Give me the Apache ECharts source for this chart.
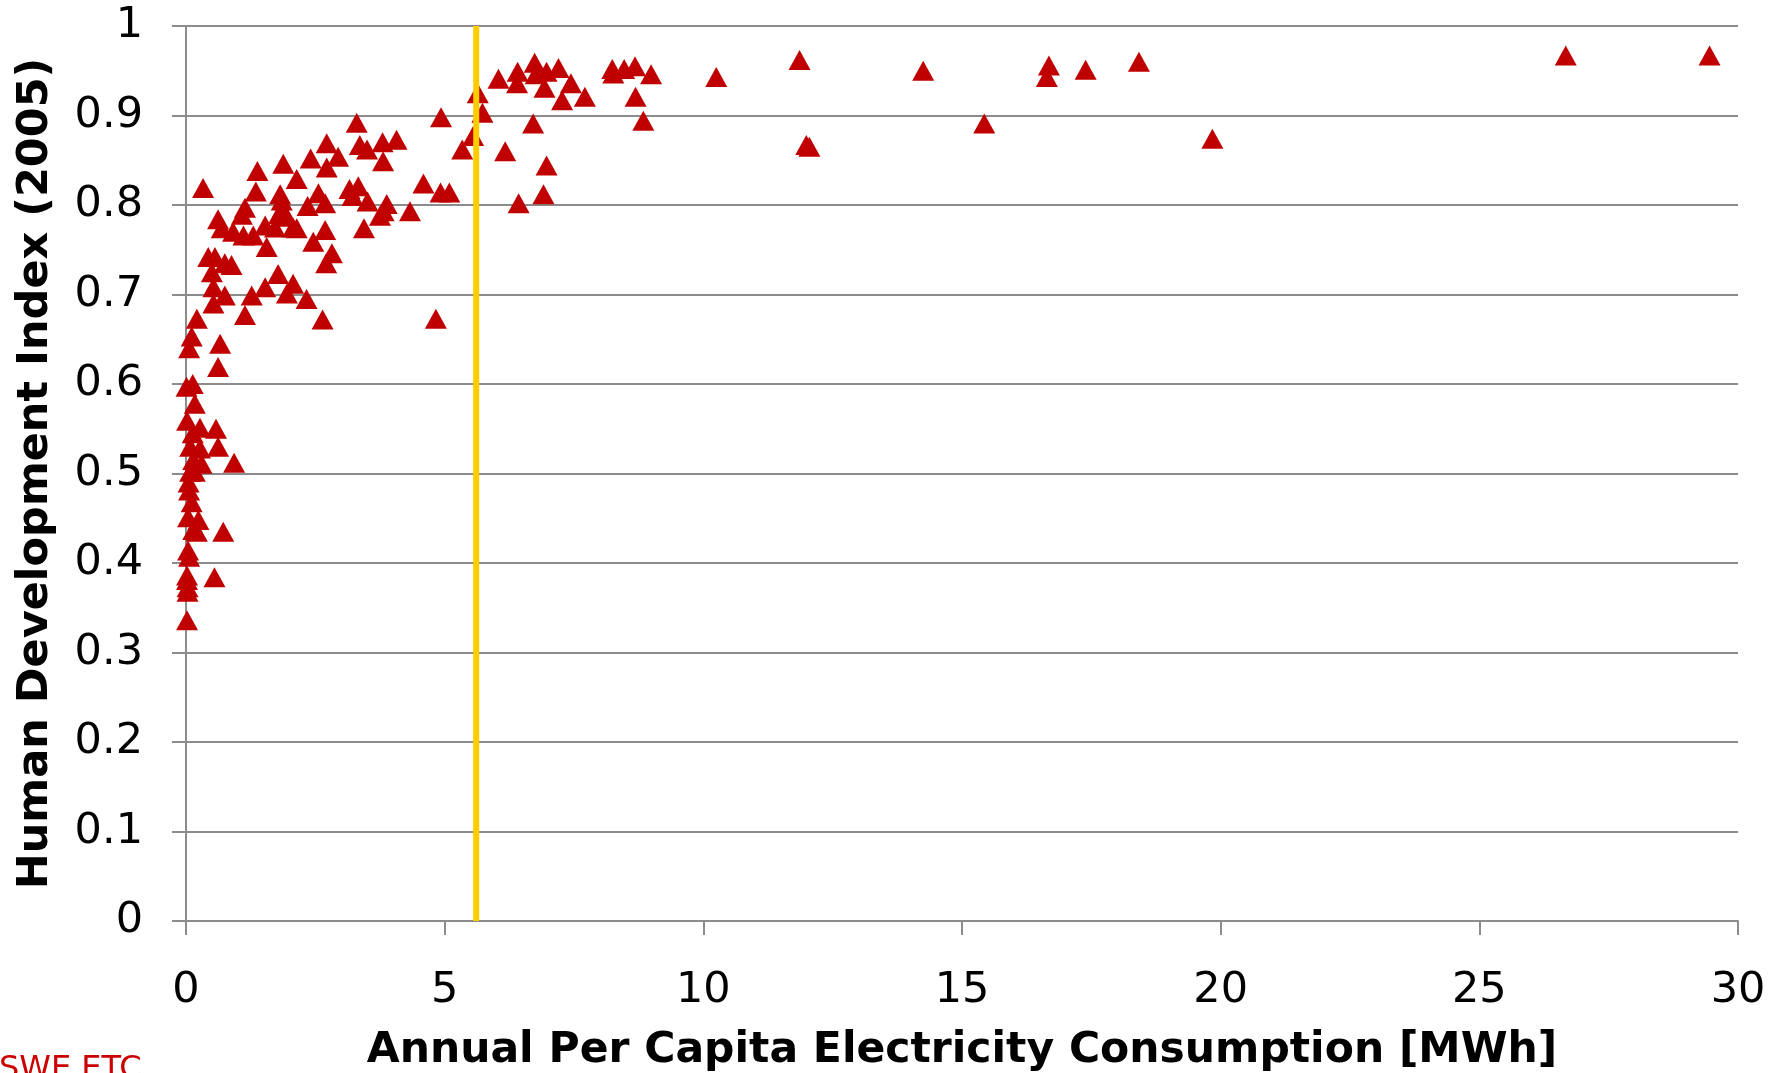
<!DOCTYPE html>
<html>
<head>
<meta charset="utf-8">
<script src="https://cdn.jsdelivr.net/npm/echarts@6/dist/echarts.min.js"></script>
<style>
html,body{margin:0;padding:0;background:#fff;}
#chart{width:1782px;height:1073px;}
</style>
</head>
<body>
<div id="chart"></div>
<script>
// Annual per capita electricity consumption [MWh]
const consumptionMWh = [
  3.30,4.93,5.64,5.55,5.34,6.17,
  2.72,2.94,2.41,2.72,3.36,3.50,3.80,4.07,3.81,
  1.88,1.38,2.14,0.33,1.35,1.82,
  2.35,2.56,2.69,3.16,3.33,3.22,3.51,3.88,3.75,3.82,4.33,4.59,4.92,5.09,3.44,
  1.85,1.80,
  1.14,1.08,0.62,0.69,0.91,1.11,1.30,1.53,1.72,1.85,1.95,2.07,2.14,1.56,2.46,2.69,2.82,2.71,
  0.43,0.56,0.75,0.88,0.50,0.53,0.75,0.53,1.27,1.53,1.78,2.07,1.95,2.33,1.14,0.21,0.11,0.06,0.66,2.64,4.83,
  0.62,0.01,0.13,0.17,0.02,0.27,0.58,0.13,0.08,0.27,0.62,0.14,0.30,0.93,0.08,0.17,0.05,0.06,0.11,0.04,0.24,
  0.14,0.21,0.72,0.04,0.06,0.02,0.02,0.03,0.03,0.55,0.02,
  5.73,6.04,6.41,6.40,6.74,6.76,6.97,7.20,6.93,7.44,7.27,7.71,6.71,6.97,6.91,6.43,
  8.24,8.26,8.47,8.68,8.99,8.69,8.84,10.25,
  11.86,14.25,16.68,16.64,17.39,18.42,26.67,29.45,15.43,19.84,11.99,12.05
];
// Human Development Index (2005)
const hdi2005 = [
  0.892,0.898,0.925,0.877,0.862,0.860,
  0.869,0.854,0.852,0.842,0.867,0.862,0.870,0.873,0.849,
  0.846,0.838,0.829,0.819,0.815,0.812,
  0.799,0.813,0.802,0.818,0.821,0.810,0.804,0.801,0.788,0.793,0.793,0.824,0.814,0.814,0.774,
  0.805,0.790,
  0.797,0.789,0.784,0.774,0.770,0.766,0.766,0.777,0.775,0.794,0.787,0.775,0.774,0.753,0.759,0.772,0.746,0.735,
  0.742,0.742,0.735,0.733,0.725,0.708,0.699,0.690,0.699,0.708,0.723,0.712,0.701,0.695,0.677,0.673,0.653,0.640,0.645,0.672,0.673,
  0.619,0.597,0.600,0.578,0.559,0.551,0.550,0.545,0.530,0.528,0.530,0.515,0.511,0.512,0.502,0.502,0.490,0.481,0.468,0.451,0.448,
  0.437,0.435,0.435,0.414,0.407,0.386,0.381,0.373,0.368,0.384,0.336,
  0.903,0.941,0.949,0.936,0.959,0.946,0.949,0.953,0.931,0.936,0.917,0.921,0.891,0.844,0.812,0.802,
  0.952,0.947,0.952,0.955,0.946,0.921,0.894,0.943,
  0.962,0.950,0.956,0.943,0.951,0.960,0.967,0.967,0.891,0.874,0.867,0.865
];
// Threshold line position [MWh]
const thresholdMWh = 5.61;
const hdiRange = [0, 1];

const xTitle = 'Annual Per Capita Electricity Consumption [MWh]';
const yTitle = 'Human Development Index (2005)';
const footnote = 'SWE ETC';

const points = consumptionMWh.map((x, i) => [x, hdi2005[i]]);
const thresholdLine = hdiRange.map(y => [thresholdMWh, y]);

const chart = echarts.init(document.getElementById('chart'), null, {renderer: 'canvas'});
const font = '"DejaVu Sans", Verdana, sans-serif';
const gray = '#8c8c8c';

chart.setOption({
  animation: false,
  backgroundColor: '#ffffff',
  grid: {left: 186, right: 44, top: 26, bottom: 152, containLabel: false, outerBoundsMode: 'none'},
  xAxis: {
    type: 'value', min: 0, max: 30, interval: 5,
    name: xTitle, nameLocation: 'middle', nameGap: 108,
    nameTextStyle: {fontFamily: font, fontWeight: 'bold', fontSize: 42.5, color: '#000'},
    axisLine: {show: true, onZero: false, lineStyle: {color: gray, width: 2}},
    axisTick: {show: true, length: 14, lineStyle: {color: gray, width: 2}},
    axisLabel: {fontFamily: font, fontSize: 43, color: '#000', margin: 48},
    splitLine: {show: false}
  },
  yAxis: {
    type: 'value', min: 0, max: 1, interval: 0.1,
    name: yTitle, nameLocation: 'middle', nameGap: 129, nameRotate: 90,
    nameTextStyle: {fontFamily: font, fontWeight: 'bold', fontSize: 43, color: '#000'},
    axisLine: {show: true, onZero: false, lineStyle: {color: gray, width: 2}},
    axisTick: {show: true, length: 14, lineStyle: {color: gray, width: 2}},
    axisLabel: {fontFamily: font, fontSize: 43, color: '#000', margin: 43},
    splitLine: {show: true, lineStyle: {color: gray, width: 2}}
  },
  series: [
    {
      type: 'scatter',
      data: points,
      symbol: 'triangle',
      symbolSize: [22, 20],
      itemStyle: {color: '#c00000', opacity: 1},
      z: 3
    },
    {
      type: 'line',
      data: thresholdLine,
      showSymbol: false,
      symbol: 'none',
      lineStyle: {color: '#ffcc00', width: 6},
      z: 5
    }
  ],
  graphic: [
    {
      type: 'text', left: -1, top: 1054,
      style: {text: footnote, fontFamily: font, fontSize: 32, fill: '#cc0000'}
    }
  ]
});
</script>
</body>
</html>
